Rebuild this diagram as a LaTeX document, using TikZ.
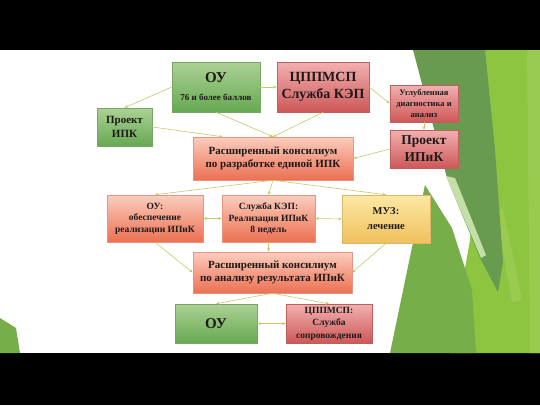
\documentclass[tikz,border=0pt]{standalone}
\usepackage{fontspec}
\setmainfont{Liberation Serif}
\usetikzlibrary{arrows.meta}
\definecolor{txt}{RGB}{30,25,25}
\definecolor{lnc}{RGB}{200,200,105}
\definecolor{gtop}{RGB}{172,210,148}
\definecolor{gbot}{RGB}{102,168,82}
\definecolor{gdraw}{RGB}{120,165,100}
\definecolor{rtop}{RGB}{242,176,176}
\definecolor{rbot}{RGB}{206,88,88}
\definecolor{rdraw}{RGB}{190,95,95}
\definecolor{stop}{RGB}{251,205,190}
\definecolor{sbot}{RGB}{236,112,82}
\definecolor{sdraw}{RGB}{228,150,130}
\definecolor{ytop}{RGB}{252,232,165}
\definecolor{ybot}{RGB}{240,192,92}
\definecolor{ydraw}{RGB}{222,182,105}
\definecolor{lime}{RGB}{141,196,64}
\definecolor{litelime}{RGB}{152,203,80}
\definecolor{dkgreen}{RGB}{104,155,80}
\definecolor{mdgreen}{RGB}{118,174,74}
\definecolor{palegreen}{RGB}{196,224,168}
\newcommand{\fs}[2]{\bfseries\fontsize{#1}{#2}\selectfont}
\begin{document}
\begin{tikzpicture}[x=1pt,y=-1pt,
  box/.style={draw, line width=0.5pt, inner sep=1pt, align=center, text=txt},
  gbox/.style={box, top color=gtop, bottom color=gbot, draw=gdraw},
  rbox/.style={box, top color=rtop, bottom color=rbot, draw=rdraw},
  sbox/.style={box, top color=stop, bottom color=sbot, draw=sdraw},
  ybox/.style={box, top color=ytop, bottom color=ybot, draw=ydraw},
  conn/.style={draw=lnc, line width=0.6pt, -{Stealth[length=3.5pt,width=3pt]}},
  dconn/.style={draw=lnc, line width=0.6pt, {Stealth[length=3.5pt,width=3pt]}-{Stealth[length=3.5pt,width=3pt]}}]
\useasboundingbox (0,0) rectangle (540,405);
\fill[black] (0,0) rectangle (540,50);
\fill[white] (0,50) rectangle (540,353);
\fill[black] (0,353) rectangle (540,405);
% background facets
\fill[lime] (485,50) -- (540,50) -- (540,353) -- (450,353) -- (470,240) -- cycle;
\fill[litelime] (527,50) -- (540,50) -- (540,353) -- (530,353) -- cycle;
\fill[litelime] (496,210) -- (503,208) -- (522,300) -- (512,302) -- cycle;
\fill[dkgreen] (413,50) -- (485,50) -- (495,150) -- (503,262) -- (498,292) -- (480,258) -- (447,178) -- cycle;
\fill[palegreen] (446,176) -- (455,178) -- (486,255) -- (481,258) -- cycle;
\fill[mdgreen] (425,185) -- (452,228) -- (472,290) -- (476,353) -- (390,353) -- cycle;
\fill[mdgreen] (0,318) -- (16,328) -- (20,353) -- (0,353) -- cycle;
% nodes
\node[gbox, minimum width=88pt, minimum height=50pt, font=\fs{15}{17}] (ouT) at (216,87)
  {ОУ\\[1pt]{\fs{9}{10}76 и более баллов}};
\node[rbox, minimum width=92pt, minimum height=50pt, font=\fs{14}{17.5}] (cpp) at (323,87)
  {ЦППМСП\\Служба КЭП};
\node[rbox, minimum width=68pt, minimum height=37pt, font=\fs{8.5}{11}] (ugl) at (424,103.5)
  {Углубленная\\диагностика и\\анализ};
\node[gbox, minimum width=55pt, minimum height=38pt, font=\fs{11}{13.5}] (pipk) at (124.5,127)
  {Проект\\ИПК};
\node[rbox, minimum width=68pt, minimum height=38pt, font=\fs{13.5}{17}] (pipik) at (424,149)
  {Проект\\ИПиК};
\node[sbox, minimum width=160pt, minimum height=43pt, font=\fs{11}{13.5}] (k1) at (273,158.5)
  {Расширенный консилиум\\по разработке единой ИПК};
\node[sbox, minimum width=96pt, minimum height=47pt, font=\fs{9.5}{11.5}] (ouM) at (155,218.5)
  {ОУ:\\обеспечение\\реализации ИПиК};
\node[sbox, minimum width=93pt, minimum height=47pt, font=\fs{9.5}{11.5}] (sl) at (268.5,218.5)
  {Служба КЭП:\\Реализация ИПиК\\8 недель};
\node[ybox, minimum width=88pt, minimum height=48pt, font=\fs{10.5}{15}] (muz) at (386,219)
  {МУЗ:\\лечение};
\node[sbox, minimum width=159pt, minimum height=41pt, font=\fs{11}{13.5}] (k2) at (272.5,272.5)
  {Расширенный консилиум\\по анализу результата ИПиК};
\node[gbox, minimum width=82pt, minimum height=39pt, font=\fs{15}{17}] (ouB) at (216,323.5)
  {ОУ};
\node[rbox, minimum width=86pt, minimum height=39pt, font=\fs{9.5}{12.5}] (cppB) at (329,323.5)
  {ЦППМСП:\\Служба\\сопровождения};
% connectors
\draw[conn] (ouT.west) -- (pipk.north);
\draw[conn] (ouT.east) -- (cpp.west);
\draw[conn] (ouT.south) -- (k1.north);
\draw[conn] (cpp.south) -- (k1.north);
\draw[conn] (pipk.east) -- ([xshift=30pt]k1.north west);
\draw[conn] (cpp.east) -- (ugl.west);
\draw[conn] (ugl.south) -- (pipik.north);
\draw[conn] (pipik.west) -- (k1.east);
\draw[conn] (k1.south) -- (ouM.north);
\draw[conn] (k1.south) -- (sl.north);
\draw[conn] (k1.south) -- (muz.north);
\draw[dconn] (ouM.east) -- (sl.west);
\draw[dconn] (sl.east) -- (muz.west);
\draw[conn] (ouM.south) -- (k2.west);
\draw[conn] (muz.south) -- (k2.east);
\draw[conn] (sl.south) -- (sl.south |- k2.north);
\draw[conn] (k2.south) -- (ouB.north);
\draw[conn] (k2.south) -- (cppB.north);
\draw[dconn] (ouB.east) -- (cppB.west);
\end{tikzpicture}
\end{document}
